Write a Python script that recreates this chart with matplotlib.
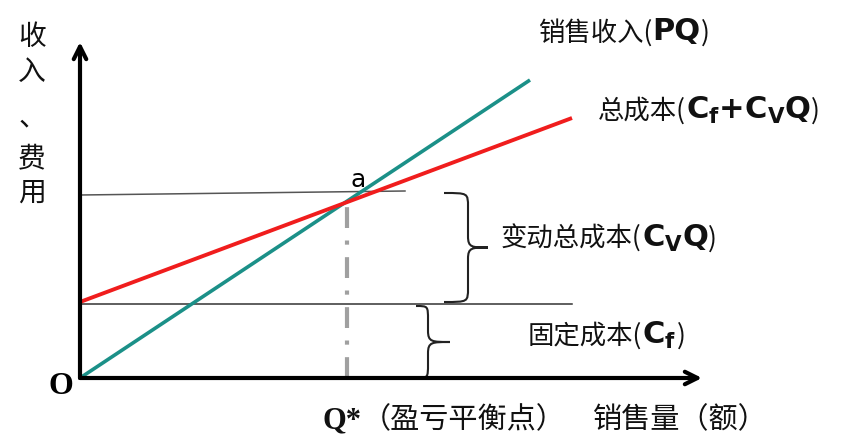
import matplotlib
matplotlib.use("Agg")

import matplotlib.pyplot as plt
from matplotlib.path import Path
from matplotlib.patches import PathPatch
from matplotlib.offsetbox import TextArea, HPacker, AnnotationBbox

# break-even chart values (quantity on x, money on y)
revenue_q = [0, 450]
revenue = [0, 298]
cost_q = [0, 492]
total_cost = [76, 260]
fixed_cost = 74
q_star = 267
breakeven_level = 178
variable_top = 183
guide_right = 325
x_axis_end = 622
y_axis_end = 336

y_label_chars = ["收", "入", "、", "费", "用"]
y_label_pos = [341, 306, 261, 220, 185]

CJK = "Noto Sans CJK SC"
TEAL = "#1b9088"
RED = "#f01d1d"
INK = "#111111"

fig = plt.figure(figsize=(8.43, 4.38), dpi=100)
ax = fig.add_axes([0, 0, 1, 1])
ax.set_xlim(-80, 763)
ax.set_ylim(-60, 378)
ax.axis("off")

# axes with open arrow heads
arrow = dict(arrowstyle="->,head_length=0.9,head_width=0.45", lw=3, color="black",
             shrinkA=0, shrinkB=0)
ax.annotate("", xy=(x_axis_end, 0), xytext=(0, 0), arrowprops=arrow)
ax.annotate("", xy=(0, y_axis_end), xytext=(0, 0), arrowprops=arrow)

# guide lines
ax.plot([0, guide_right], [variable_top, variable_top + 4], color="#555555", lw=1.1)
ax.plot([0, cost_q[1]], [fixed_cost, fixed_cost], color="#333333", lw=1.1)
ax.plot([q_star, q_star], [0, breakeven_level], color="#a0a0a0", lw=3,
        linestyle=(0, (5, 3, 1, 3)))

# revenue and cost lines
ax.plot(revenue_q, revenue, color=TEAL, lw=2.6, solid_capstyle="butt")
ax.plot(cost_q, total_cost, color=RED, lw=2.8, solid_capstyle="butt")


def brace(ax, x_end, x_mid, x_tip, y_top, y_bot, lw=1.5):
    """Curly brace opening left, tip pointing right."""
    y_c = (y_top + y_bot) / 2
    r = min(14, (y_top - y_bot) / 5)
    verts = [
        (x_end, y_top),
        (x_mid, y_top), (x_mid, y_top), (x_mid, y_top - r),
        (x_mid, y_c + r * 0.8),
        (x_mid, y_c), (x_mid + 4, y_c), (x_tip, y_c),
        (x_mid + 4, y_c), (x_mid, y_c), (x_mid, y_c - r * 0.8),
        (x_mid, y_bot + r),
        (x_mid, y_bot), (x_mid, y_bot), (x_end, y_bot),
    ]
    codes = [Path.MOVETO,
             Path.CURVE4, Path.CURVE4, Path.CURVE4,
             Path.LINETO,
             Path.CURVE4, Path.CURVE4, Path.CURVE4,
             Path.CURVE4, Path.CURVE4, Path.CURVE4,
             Path.LINETO,
             Path.CURVE4, Path.CURVE4, Path.CURVE4]
    ax.add_patch(PathPatch(Path(verts, codes), fill=False, edgecolor="#222222", lw=lw))


brace(ax, 364, 388, 408, variable_top + 2, fixed_cost + 2)
brace(ax, 336, 348, 370, fixed_cost - 2, 0)


def label(ax, xy, parts):
    boxes = [TextArea(t, textprops=p) for t, p in parts]
    pack = HPacker(children=boxes, align="baseline", pad=0, sep=0)
    ab = AnnotationBbox(pack, xy, box_alignment=(0, 0.5), frameon=False,
                        pad=0)
    ax.add_artist(ab)


cjk = dict(family=CJK, size=19, color=INK)
bold = dict(family="DejaVu Sans", size=22, weight="bold", color=INK)
axis_cjk = dict(family=CJK, size=21, color=INK)

label(ax, (458, 346), [("销售收入(", cjk), ("PQ", bold), (")", cjk)])
label(ax, (518, 268), [("总成本(", cjk),
                       (r"C$_\mathbf{f}$+C$_\mathbf{V}$Q", bold), (")", cjk)])
label(ax, (421, 140), [("变动总成本(", cjk),
                       (r"C$_\mathbf{V}$Q", bold), (")", cjk)])
label(ax, (448, 43), [("固定成本(", cjk), (r"C$_\mathbf{f}$", bold), (")", cjk)])

# x-axis title
label(ax, (243, -42), [("Q*", dict(family="Liberation Serif", size=22,
                                    weight="bold", color=INK)),
                        ("（盈亏平衡点）", axis_cjk)])
label(ax, (513, -42), [("销售量（额）", axis_cjk)])

ax.text(278, 198, "a", family="DejaVu Sans", size=18, ha="center", va="center")
ax.text(-19, -9, "O", family="Liberation Serif", size=23, weight="bold",
        ha="center", va="center")

for ch, y in zip(y_label_chars, y_label_pos):
    ax.text(-48, y, ch, family=CJK, size=20, ha="center", va="center",
            color=INK)

fig.savefig("out.png", dpi=100)
